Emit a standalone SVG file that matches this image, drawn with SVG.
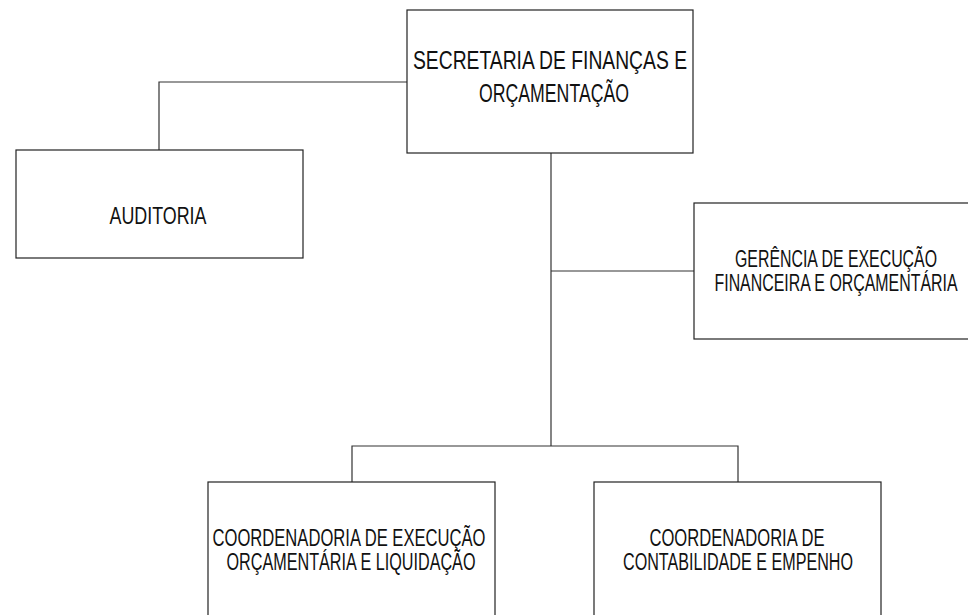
<svg xmlns="http://www.w3.org/2000/svg" width="968" height="615" viewBox="0 0 968 615">
<style>
.box{fill:#fff;stroke:#222;stroke-width:1.2}
.ln{fill:none;stroke:#333;stroke-width:1.2}
text{font-family:"Liberation Sans",Arial,sans-serif;fill:#111;text-anchor:middle}
</style>
<rect width="968" height="615" fill="#fff"/>
<g id="connectors">
<polyline class="ln" points="407,82 159,82 159,150"/>
<line class="ln" x1="551" y1="153" x2="551" y2="446"/>
<line class="ln" x1="551" y1="271" x2="694" y2="271"/>
<polyline class="ln" points="352,482 352,446 738,446 738,482"/>
</g>
<g id="secretaria">
<rect class="box" x="407" y="10" width="286" height="143"/>
<text x="550" y="69" font-size="25" textLength="274" lengthAdjust="spacingAndGlyphs">SECRETARIA DE FINANÇAS E</text>
<text x="554" y="102" font-size="25" textLength="150" lengthAdjust="spacingAndGlyphs">ORÇAMENTAÇÃO</text>
</g>
<g id="auditoria">
<rect class="box" x="16" y="150" width="287" height="108"/>
<text x="158" y="224" font-size="23" textLength="97" lengthAdjust="spacingAndGlyphs">AUDITORIA</text>
</g>
<g id="gerencia">
<rect class="box" x="694" y="203" width="290" height="136"/>
<text x="836" y="267" font-size="23" textLength="202" lengthAdjust="spacingAndGlyphs">GERÊNCIA DE EXECUÇÃO</text>
<text x="836" y="291" font-size="23" textLength="243" lengthAdjust="spacingAndGlyphs">FINANCEIRA E ORÇAMENTÁRIA</text>
</g>
<g id="coord-execucao">
<rect class="box" x="208" y="482" width="287" height="150"/>
<text x="349" y="546" font-size="23" textLength="273" lengthAdjust="spacingAndGlyphs">COORDENADORIA DE EXECUÇÃO</text>
<text x="351" y="570" font-size="23" textLength="249" lengthAdjust="spacingAndGlyphs">ORÇAMENTÁRIA E LIQUIDAÇÃO</text>
</g>
<g id="coord-contabilidade">
<rect class="box" x="594" y="482" width="287" height="150"/>
<text x="737" y="546" font-size="23" textLength="175" lengthAdjust="spacingAndGlyphs">COORDENADORIA  DE</text>
<text x="738" y="570" font-size="23" textLength="230" lengthAdjust="spacingAndGlyphs">CONTABILIDADE E EMPENHO</text>
</g>
</svg>
